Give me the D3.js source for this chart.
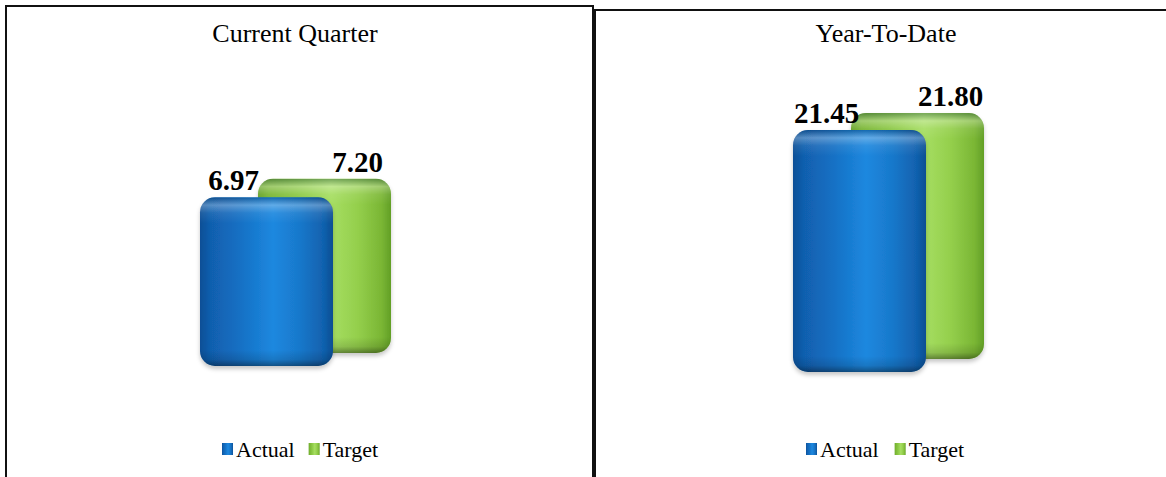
<!DOCTYPE html>
<meta charset="utf-8">
<script src="https://d3js.org/d3.v7.min.js"></script>
<style>
  body { margin: 0; background: #fff; }
  text { font-family: "Liberation Serif", "Times New Roman", serif; }
</style>
<div id="chart"></div>
<script>

    // data
    const panelTitles = ["Current Quarter", "Year-To-Date"]
    const seriesNames = ["Actual", "Target"]
    const currentQuarter = [6.97, 7.20]
    const yearToDate = [21.45, 21.80]
    const panelValues = [currentQuarter, yearToDate]
    const panelMax = [8, 25]

    // layout of the two panels (pixels)
    const width = 1166, height = 477
    const layout = [
      {left: 6, right: 593, top: 6, titleX: 295, barX: 200, base: 366, pxPerUnit: 24.2, legendX: 222, legendGap: 14},
      {left: 595, right: 1166, top: 10, titleX: 886, barX: 793, base: 372, pxPerUnit: 11.28, legendX: 806, legendGap: 16}
    ]
    const barWidth = 133, depthX = 58, depthY = 13, radius = 15

    const colors = {
      Actual: ["#0d4f96", "#115fae", "#1470c4", "#1d88df", "#1878cb", "#1161ae", "#0d4e92"],
      Target: ["#64a126", "#78b532", "#8bc844", "#a6de62", "#94cf4c", "#7ab634", "#629f26"]
    }
    const stopOffsets = [0, 0.08, 0.3, 0.55, 0.75, 0.93, 1]

    const svg = d3.select("#chart")
      .append("svg")
        .attr("width", width)
        .attr("height", height)

    const defs = svg.append("defs")

    // horizontal shading of each cylinder
    seriesNames.forEach(function(s) {
      const g = defs.append("linearGradient")
        .attr("id", "grad-" + s)
        .attr("x1", 0).attr("x2", 1).attr("y1", 0).attr("y2", 0)
      stopOffsets.forEach(function(o, i) {
        g.append("stop").attr("offset", o).attr("stop-color", colors[s][i])
      })
    })

    const topGrad = defs.append("linearGradient")
      .attr("id", "top-shade").attr("x1", 0).attr("x2", 0).attr("y1", 0).attr("y2", 1)
    topGrad.append("stop").attr("offset", 0).attr("stop-color", "#002040").attr("stop-opacity", 0.3)
    topGrad.append("stop").attr("offset", 0.3).attr("stop-color", "#ffffff").attr("stop-opacity", 0.3)
    topGrad.append("stop").attr("offset", 0.6).attr("stop-color", "#ffffff").attr("stop-opacity", 0.08)
    topGrad.append("stop").attr("offset", 1).attr("stop-color", "#ffffff").attr("stop-opacity", 0)

    const botGrad = defs.append("linearGradient")
      .attr("id", "bot-shade").attr("x1", 0).attr("x2", 0).attr("y1", 0).attr("y2", 1)
    botGrad.append("stop").attr("offset", 0).attr("stop-color", "#000").attr("stop-opacity", 0)
    botGrad.append("stop").attr("offset", 0.6).attr("stop-color", "#000").attr("stop-opacity", 0.12)
    botGrad.append("stop").attr("offset", 1).attr("stop-color", "#000").attr("stop-opacity", 0.4)

    defs.append("filter").attr("id", "shadow")
      .attr("x", "-20%").attr("y", "-20%").attr("width", "140%").attr("height", "140%")
      .append("feDropShadow")
        .attr("dx", 0).attr("dy", 3).attr("stdDeviation", 2)
        .attr("flood-color", "#000").attr("flood-opacity", 0.22)

    // depth position of each series (3D offset)
    const depth = d3.scalePoint().domain(seriesNames).range([0, 1])

    panelTitles.forEach(function(title, p) {
      const L = layout[p]
      const values = panelValues[p]
      const g = svg.append("g")

      // frame
      const framePath = p === 0
        ? `M${L.left},${height} V${L.top} H${L.right} V${height}`
        : `M${L.left},${height} V${L.top} H${L.right}`
      g.append("path")
        .attr("d", framePath)
        .attr("fill", "none").attr("stroke", "#111").attr("stroke-width", 2)

      // title
      g.append("text")
        .attr("x", L.titleX).attr("y", 42)
        .attr("text-anchor", "middle")
        .style("font-size", "26px")
        .text(title)

      const y = d3.scaleLinear()
        .domain([0, panelMax[p]])
        .range([0, panelMax[p] * L.pxPerUnit])

      const data = seriesNames.map(function(s, i) {
        const t = depth(s)
        const x0 = L.barX + depthX * t
        const base = L.base - depthY * t
        return {name: s, value: values[i], x: x0, bottom: base, top: base - y(values[i])}
      })

      // draw back series first
      data.slice().reverse().forEach(function(d) {
        const clipId = `clip-${p}-${d.name}`
        defs.append("clipPath").attr("id", clipId)
          .append("rect")
            .attr("x", d.x).attr("y", d.top)
            .attr("width", barWidth).attr("height", d.bottom - d.top)
            .attr("rx", radius).attr("ry", radius)

        const bar = g.append("g")
        bar.append("rect")
          .attr("x", d.x).attr("y", d.top)
          .attr("width", barWidth).attr("height", d.bottom - d.top)
          .attr("rx", radius).attr("ry", radius)
          .attr("fill", `url(#grad-${d.name})`)
          .attr("filter", "url(#shadow)")

        const inner = bar.append("g").attr("clip-path", `url(#${clipId})`)
        inner.append("rect")
          .attr("x", d.x).attr("y", d.top)
          .attr("width", barWidth).attr("height", 26)
          .attr("fill", "url(#top-shade)")
        inner.append("rect")
          .attr("x", d.x).attr("y", d.bottom - 16)
          .attr("width", barWidth).attr("height", 16)
          .attr("fill", "url(#bot-shade)")
      })

      // value labels
      g.selectAll(".val")
        .data(data)
        .join("text")
          .attr("class", "val")
          .attr("x", function(d, i) { return d.x + barWidth / 2 + (i === 0 ? -33 : 33) })
          .attr("y", function(d) { return d.top - 7 })
          .attr("text-anchor", "middle")
          .style("font-size", "29px")
          .style("font-weight", "bold")
          .text(function(d) { return d.value.toFixed(2) })

      // legend
      let lx = L.legendX
      seriesNames.forEach(function(s) {
        g.append("rect")
          .attr("x", lx).attr("y", 443)
          .attr("width", 11).attr("height", 12)
          .attr("fill", `url(#grad-${s})`)
        const txt = g.append("text")
          .attr("x", lx + 14).attr("y", 457)
          .style("font-size", "22px")
          .text(s)
        lx += 14 + txt.node().getComputedTextLength() + L.legendGap
      })
    })
</script>
